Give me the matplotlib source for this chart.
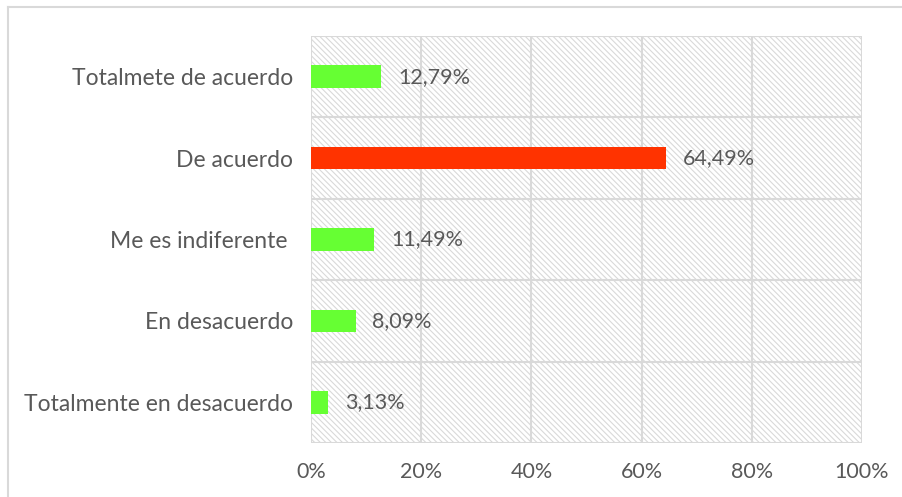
import matplotlib.pyplot as plt
from matplotlib.patches import Rectangle
from matplotlib.lines import Line2D

# ── Survey data ────────────────────────────────────────────────
categories = [
    "Totalmente en desacuerdo",
    "En desacuerdo",
    "Me es indiferente ",
    "De acuerdo",
    "Totalmete de acuerdo",
]
percentages = [3.13, 8.09, 11.49, 64.49, 12.79]
bar_colours = ["#66FF33", "#66FF33", "#66FF33", "#FF3300", "#66FF33"]
x_ticks = [0, 20, 40, 60, 80, 100]

TEXT = "#595959"
GRID = "#d9d9d9"

plt.rcParams["font.family"] = ["Lato", "DejaVu Sans"]
plt.rcParams["hatch.color"] = GRID
plt.rcParams["hatch.linewidth"] = 0.8

fig = plt.figure(figsize=(9.02, 4.97), dpi=100)
W, H = 902, 497

# plot area in pixel coordinates
left, right, top, bottom = 311, 862, 36, 443
ax = fig.add_axes([left / W, 1 - bottom / H, (right - left) / W, (bottom - top) / H])

# hatched background of the plot area
ax.patch.set_facecolor("white")
ax.add_patch(Rectangle((0, 0), 1, 1, transform=ax.transAxes, facecolor="white",
                       edgecolor=GRID, hatch="\\" * 6, linewidth=0, zorder=0))

y = range(len(categories))
ax.barh(y, percentages, height=0.28, color=bar_colours, zorder=3)

for yi, v in zip(y, percentages):
    ax.annotate(f"{v:.2f}%".replace(".", ","), (v, yi), xytext=(12, 0),
                textcoords="offset points", va="center", ha="left",
                fontsize=15.5, color=TEXT, zorder=4)

ax.set_xlim(0, 100)
ax.set_ylim(-0.5, len(categories) - 0.5)
ax.set_xticks(x_ticks, [f"{t}%" for t in x_ticks])
ax.set_yticks(list(y), categories)
ax.tick_params(axis="both", length=0, colors=TEXT)
ax.tick_params(axis="x", pad=14, labelsize=15.5)
ax.tick_params(axis="y", pad=13, labelsize=16.5)

# grid lines: vertical at ticks, horizontal between categories
for t in x_ticks:
    ax.axvline(t, color=GRID, linewidth=1.5, zorder=1)
for b in [i - 0.5 for i in range(len(categories) + 1)]:
    ax.axhline(b, color=GRID, linewidth=1.5, zorder=1)
for s in ax.spines.values():
    s.set_visible(False)

# chart frame (top and left edges)
fig.add_artist(Line2D([8 / W, 1], [1 - 7 / H, 1 - 7 / H], color=GRID, linewidth=1.5))
fig.add_artist(Line2D([8 / W, 8 / W], [0, 1 - 7 / H], color=GRID, linewidth=1.5))

fig.savefig("out.png", dpi=100)
